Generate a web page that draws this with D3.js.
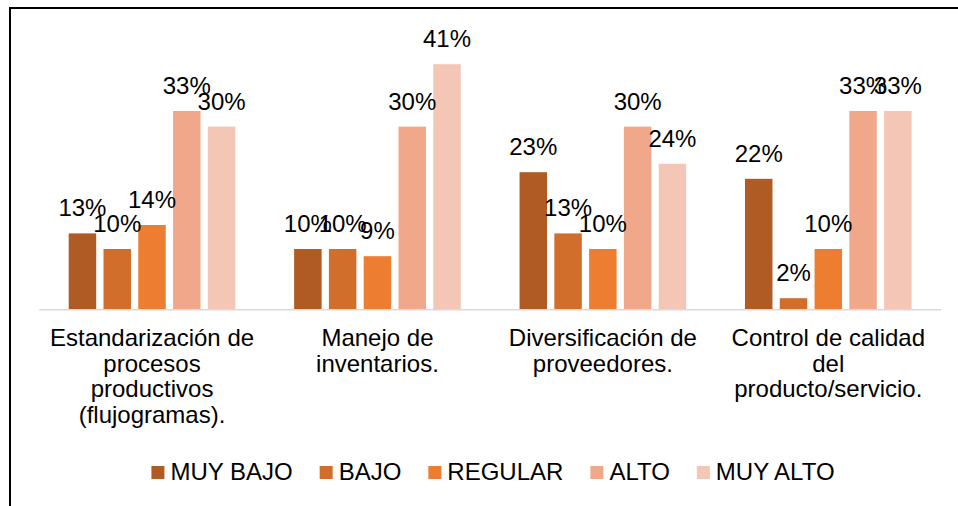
<!DOCTYPE html>
<html>
<head>
<meta charset="utf-8">
<script src="https://cdn.jsdelivr.net/npm/d3@7"></script>
<style>
  html, body { margin: 0; padding: 0; background: #fff; }
  svg { display: block; font-family: "Liberation Sans", Arial, sans-serif; }
</style>
</head>
<body>
<svg id="chart" width="958" height="506"></svg>
<script>
const categories = [
  "Estandarización de procesos productivos (flujogramas).",
  "Manejo de inventarios.",
  "Diversificación de proveedores.",
  "Control de calidad del producto/servicio."
];
const seriesNames = ["MUY BAJO", "BAJO", "REGULAR", "ALTO", "MUY ALTO"];
const seriesColors = ["#AF5B23", "#D26E2C", "#ED7D31", "#F1A88A", "#F4C6B6"];
const muyBajo = [0.126, 0.100, 0.228, 0.217];
const bajo    = [0.100, 0.100, 0.126, 0.018];
const regular = [0.140, 0.088, 0.100, 0.100];
const alto    = [0.330, 0.304, 0.304, 0.330];
const muyAlto = [0.304, 0.408, 0.242, 0.330];
const seriesValues = [muyBajo, bajo, regular, alto, muyAlto];

const svg = d3.select("#chart");
const plotLeft = 39.3, plotRight = 941, baseY = 309;

// frame (left and top visible)
svg.append("rect").attr("x", 10).attr("y", 8).attr("width", 1200).attr("height", 1200)
  .attr("fill", "none").attr("stroke", "#000").attr("stroke-width", 2);

const x0 = d3.scaleBand().domain(categories).range([plotLeft, plotRight]).padding(0);
const outerPad = 29.4;
const x1 = d3.scaleBand().domain(seriesNames)
  .range([outerPad, x0.bandwidth() - outerPad]).paddingInner(0.21).paddingOuter(0);
const y = d3.scaleLinear().domain([0, 0.4]).range([baseY, baseY - 240]);

const data = [];
categories.forEach((c, ci) => {
  seriesNames.forEach((s, si) => {
    data.push({ cat: c, series: s, si: si, value: seriesValues[si][ci] });
  });
});

const fmt = d3.format(".0%");

const g = svg.append("g");
g.selectAll("rect.bar").data(data).join("rect")
  .attr("class", "bar")
  .attr("x", d => x0(d.cat) + x1(d.series))
  .attr("y", d => y(d.value))
  .attr("width", x1.bandwidth())
  .attr("height", d => y(0) - y(d.value))
  .attr("fill", d => seriesColors[d.si]);

// axis line
svg.append("line").attr("x1", plotLeft).attr("x2", plotRight)
  .attr("y1", baseY + 0.75).attr("y2", baseY + 0.75)
  .attr("stroke", "#D9D9D9").attr("stroke-width", 1.5);

// data labels
g.selectAll("text.lbl").data(data).join("text")
  .attr("class", "lbl")
  .attr("x", d => x0(d.cat) + x1(d.series) + x1.bandwidth() / 2)
  .attr("y", d => y(d.value) - 17)
  .attr("text-anchor", "middle")
  .attr("font-size", "24px")
  .attr("fill", "#000")
  .text(d => fmt(d.value));

// category labels via axis
const xAxis = d3.axisBottom(x0).tickSize(0).tickPadding(0);
const axG = svg.append("g").attr("transform", `translate(0,${baseY})`).call(xAxis);
axG.select(".domain").remove();
axG.selectAll("text")
  .attr("font-size", "24px")
  .attr("font-family", "'Liberation Sans', Arial, sans-serif")
  .attr("fill", "#000")
  .attr("dy", null)
  .attr("y", 0)
  .each(function(d) {
    const t = d3.select(this);
    const words = d.split(/\s+/);
    t.text(null);
    const maxW = 215;
    const lines = [];
    let cur = [];
    const probe = t.append("tspan");
    words.forEach(w => {
      const test = cur.concat([w]).join(" ");
      probe.text(test);
      if (probe.node().getComputedTextLength() > maxW && cur.length) {
        lines.push(cur.join(" "));
        cur = [w];
      } else {
        cur.push(w);
      }
    });
    if (cur.length) lines.push(cur.join(" "));
    probe.remove();
    lines.forEach((ln, i) => {
      t.append("tspan").attr("x", 0).attr("y", 37 + i * 25.5).text(ln);
    });
  });

// legend
const legFont = 24;
const leg = svg.append("g");
const items = leg.selectAll("g.item").data(seriesNames).join("g").attr("class", "item");
items.append("rect").attr("width", 13).attr("height", 13)
  .attr("fill", (d, i) => seriesColors[i]);
items.append("text").attr("x", 19).attr("y", 14)
  .attr("font-size", legFont + "px").attr("fill", "#000").text(d => d);
let cx = 0;
const offsets = [];
items.each(function() {
  const tw = d3.select(this).select("text").node().getComputedTextLength();
  offsets.push(cx);
  cx += 19 + tw + 27;
});
const totalW = cx - 27;
const legStart = 493 - totalW / 2;
items.attr("transform", (d, i) => `translate(${legStart + offsets[i]},466)`);
</script>
</body>
</html>
